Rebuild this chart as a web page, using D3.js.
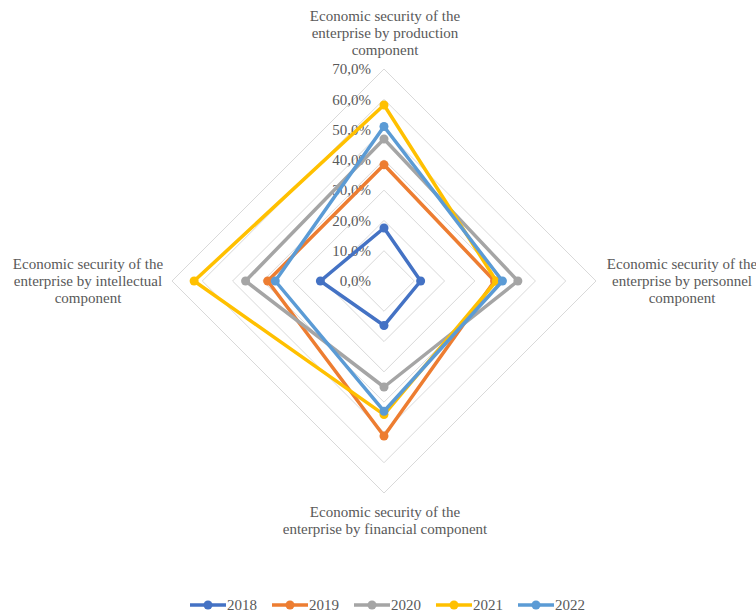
<!DOCTYPE html>
<html>
<head>
<meta charset="utf-8">
<script src="https://cdn.jsdelivr.net/npm/d3@7"></script>
<style>
  body { margin: 0; background: #fff; }
</style>
</head>
<body>
<div id="chart"></div>
<script>
const categories = [
    ["Economic security of the", "enterprise by production", "component"],
    ["Economic security of the", "enterprise by personnel", "component"],
    ["Economic security of the", "enterprise by financial component"],
    ["Economic security of the", "enterprise by intellectual", "component"]
];
const years = ["2018", "2019", "2020", "2021", "2022"];
const colors = ["#4472C4", "#ED7D31", "#A5A5A5", "#FFC000", "#5B9BD5"];
// values in %, order: production, personnel, financial, intellectual
const v2018 = [17.5, 12.1, 14.7, 21.0];
const v2019 = [38.4, 36.5, 51.2, 38.4];
const v2020 = [46.9, 44.2, 35.0, 45.7];
const v2021 = [58.1, 37.1, 44.1, 62.7];
const v2022 = [51.0, 39.1, 43.0, 35.9];
const ticks = [0, 10, 20, 30, 40, 50, 60, 70];

const series = [v2018, v2019, v2020, v2021, v2022];

const width = 756, height = 615;
const cx = 384, cy = 281;
const FONT = "'Liberation Serif', 'Times New Roman', serif";

const svg = d3.select("#chart").append("svg")
    .attr("width", width)
    .attr("height", height)
    .style("font-family", FONT)
    .style("font-size", "15px");

const r = d3.scaleLinear().domain([0, 70]).range([0, 212]);
const angle = i => i * Math.PI / 2;

const g = svg.append("g").attr("transform", `translate(${cx},${cy})`);

// grid diamonds
const radial = d3.lineRadial().curve(d3.curveLinearClosed);
g.append("g").selectAll("path")
    .data(ticks.slice(1))
    .enter().append("path")
    .attr("d", t => radial(categories.map((c, i) => [angle(i), r(t)])))
    .attr("fill", "none")
    .attr("stroke", "#d9d9d9")
    .attr("stroke-width", 1);

// tick labels
g.append("g").selectAll("text")
    .data(ticks)
    .enter().append("text")
    .attr("x", -13)
    .attr("y", t => -r(t))
    .attr("dy", "0.35em")
    .attr("text-anchor", "end")
    .attr("fill", "#595959")
    .text(t => d3.format(".1f")(t).replace(".", ",") + "%");

// series lines
const line = d3.lineRadial()
    .angle((d, i) => angle(i))
    .radius(d => r(d))
    .curve(d3.curveLinearClosed);

series.forEach((s, k) => {
    g.append("path")
        .attr("d", line(s))
        .attr("fill", "none")
        .attr("stroke", colors[k])
        .attr("stroke-width", 3.5)
        .attr("stroke-linejoin", "round");
    g.append("g").selectAll("circle")
        .data(s)
        .enter().append("circle")
        .attr("cx", (d, i) => r(d) * Math.sin(angle(i)))
        .attr("cy", (d, i) => -r(d) * Math.cos(angle(i)))
        .attr("r", 4.5)
        .attr("fill", colors[k]);
});

// category labels
const labelPos = [
    { x: 385, y: 16 },
    { x: 682, y: 264 },
    { x: 385, y: 512 },
    { x: 88, y: 264 }
];
categories.forEach((lines, i) => {
    const t = svg.append("text")
        .attr("text-anchor", "middle")
        .attr("fill", "#595959");
    lines.forEach((l, j) => {
        t.append("tspan")
            .attr("x", labelPos[i].x)
            .attr("y", labelPos[i].y + j * 17)
            .attr("dy", "0.35em")
            .text(l);
    });
});

// legend
const legend = svg.append("g").attr("transform", "translate(190,605)");
years.forEach((y, k) => {
    const item = legend.append("g").attr("transform", `translate(${k * 82},0)`);
    item.append("line")
        .attr("x1", 0).attr("x2", 36)
        .attr("stroke", colors[k])
        .attr("stroke-width", 3.5);
    item.append("circle")
        .attr("cx", 18).attr("r", 4.5)
        .attr("fill", colors[k]);
    item.append("text")
        .attr("x", 37)
        .attr("dy", "0.35em")
        .attr("fill", "#595959")
        .text(y);
});
</script>
</body>
</html>
